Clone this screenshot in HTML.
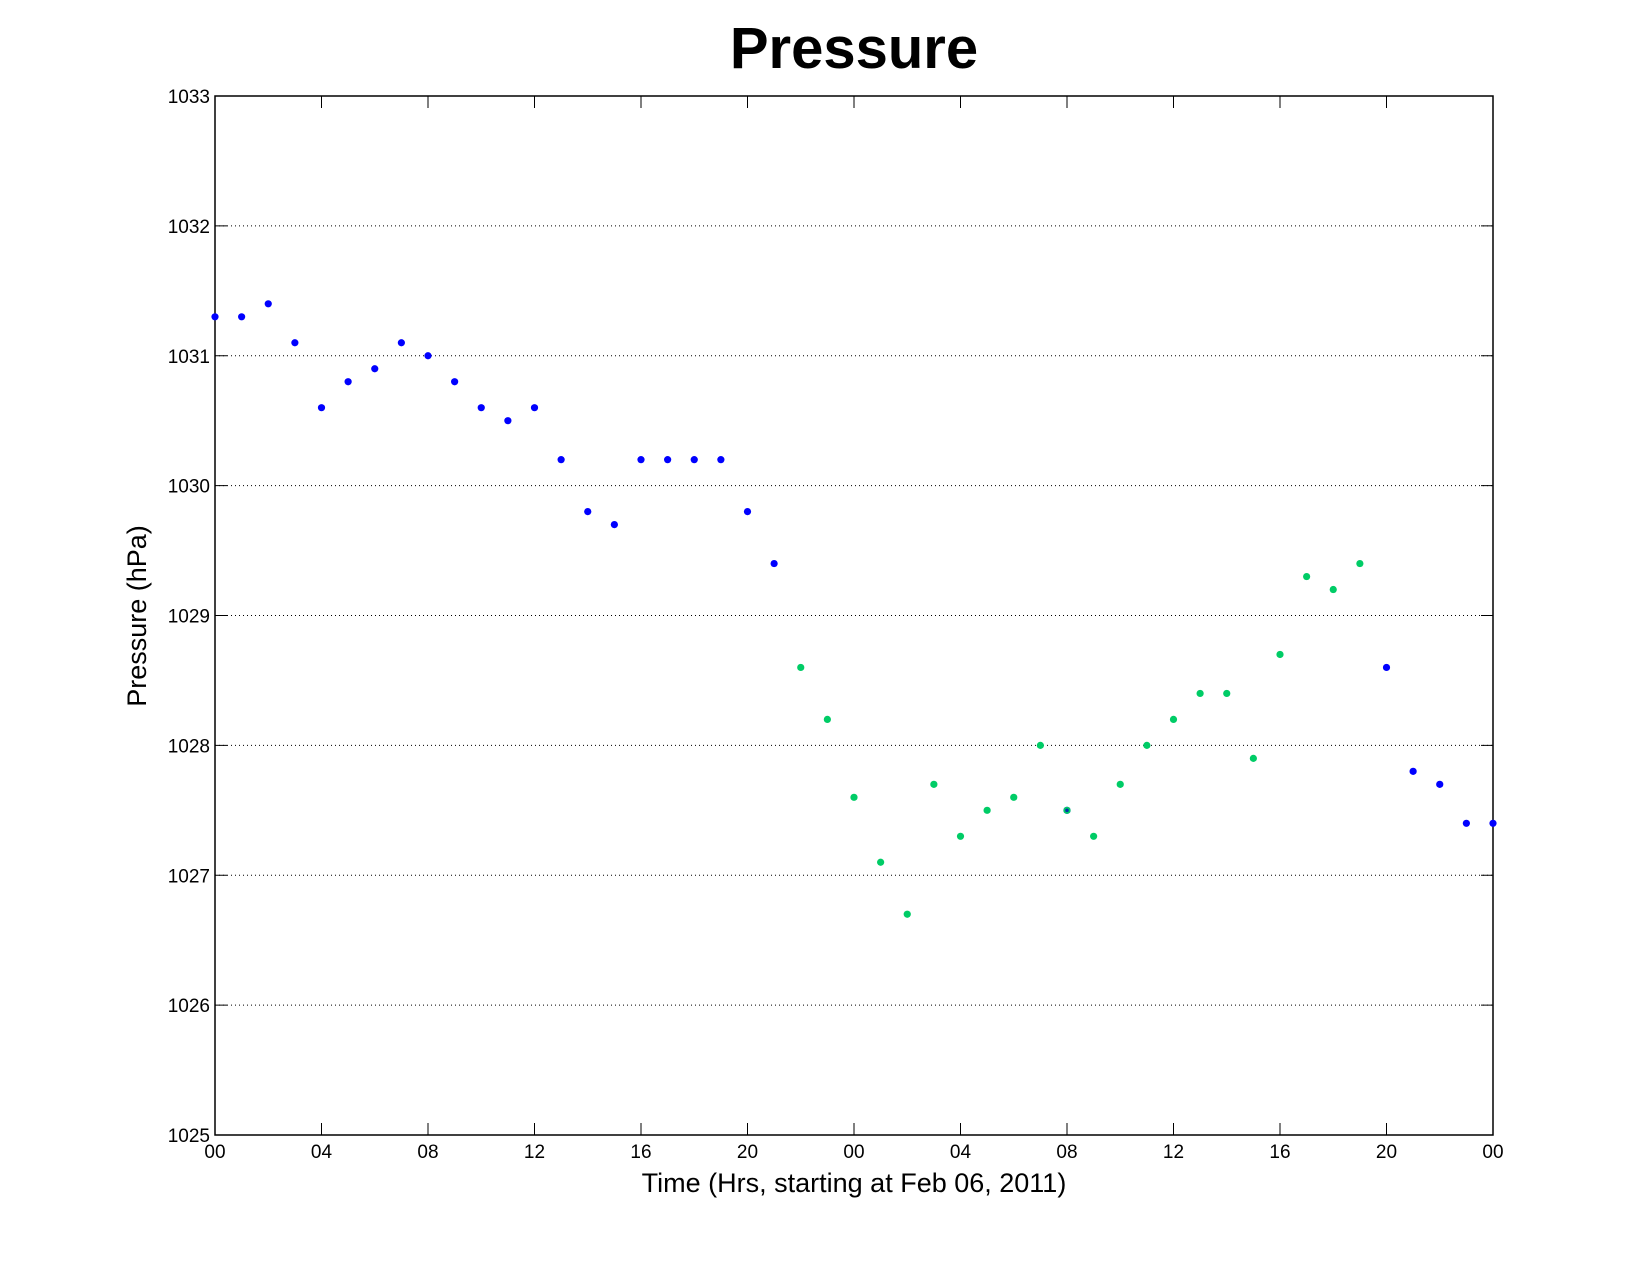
<!DOCTYPE html>
<html><head><meta charset="utf-8"><style>
body{margin:0;background:#fff}
svg{display:block;font-family:"Liberation Sans",sans-serif}
</style></head><body>
<svg id="chart" width="1650" height="1275" viewBox="0 0 1650 1275">
<text x="854" y="68" text-anchor="middle" font-size="58" font-weight="bold">Pressure</text>
<g id="grid"></g>
<g id="axes"></g>
<g id="pts"></g>
<text x="854" y="1192" text-anchor="middle" font-size="27">Time (Hrs, starting at Feb 06, 2011)</text>
<text transform="translate(146,616) rotate(-90)" text-anchor="middle" font-size="27">Pressure (hPa)</text>
</svg>
<script>
const xTickHours=[0,4,8,12,16,20,24,28,32,36,40,44,48];
const xTickLabels=["00","04","08","12","16","20","00","04","08","12","16","20","00"];
const yTicks=[1025,1026,1027,1028,1029,1030,1031,1032,1033];
const blueHours=[0,1,2,3,4,5,6,7,8,9,10,11,12,13,14,15,16,17,18,19,20,21,32,44,45,46,47,48];
const blueValues=[1031.3,1031.3,1031.4,1031.1,1030.6,1030.8,1030.9,1031.1,1031.0,1030.8,1030.6,1030.5,1030.6,1030.2,1029.8,1029.7,1030.2,1030.2,1030.2,1030.2,1029.8,1029.4,1027.5,1028.6,1027.8,1027.7,1027.4,1027.4];
const greenHours=[22,23,24,25,26,27,28,29,30,31,32,33,34,35,36,37,38,39,40,41,42,43];
const greenValues=[1028.6,1028.2,1027.6,1027.1,1026.7,1027.7,1027.3,1027.5,1027.6,1028.0,1027.5,1027.3,1027.7,1028.0,1028.2,1028.4,1028.4,1027.9,1028.7,1029.3,1029.2,1029.4];
const L=215,R=1493,T=96,B=1135;
const x=h=>L+(R-L)*h/48;
const y=v=>B-(B-T)*(v-1025)/8;
const NS="http://www.w3.org/2000/svg";
function mk(tag,attrs,parent){const e=document.createElementNS(NS,tag);for(const k in attrs)e.setAttribute(k,attrs[k]);parent.appendChild(e);return e;}
const grid=document.getElementById('grid'),axes=document.getElementById('axes'),pts=document.getElementById('pts');
yTicks.forEach(v=>{
 if(v>1025&&v<1033){const g=mk('line',{x1:L,x2:R,y1:y(v),y2:y(v),stroke:'#000','stroke-width':1,'stroke-dasharray':'1,3'},grid);
 
 }
 const t1=mk('line',{x1:L,x2:L+12,y1:y(v),y2:y(v),stroke:'#000'},axes);
 
 
 const t2=mk('line',{x1:R-12,x2:R,y1:y(v),y2:y(v),stroke:'#000'},axes);
 
 
 const lb=mk('text',{x:L-5,y:y(v)+7,'text-anchor':'end','font-size':19},axes);
 lb.textContent=v;
 
 
});
xTickHours.forEach((h,i)=>{
 const t1=mk('line',{x1:x(h),x2:x(h),y1:B,y2:B-12,stroke:'#000'},axes);
 
 
 const t2=mk('line',{x1:x(h),x2:x(h),y1:T,y2:T+12,stroke:'#000'},axes);
 
 
 const lb=mk('text',{x:x(h),y:B+23,'text-anchor':'middle','font-size':19},axes);
 lb.textContent=xTickLabels[i];
 
 
});
const frame=mk('rect',{x:L,y:T,width:R-L,height:B-T,fill:'none',stroke:'#000','stroke-width':1.5},axes);


blueHours.forEach((h,i)=>{
 const c=mk('circle',{cx:x(h),cy:y(blueValues[i]),r:3.6,fill:'#0000ff'},pts);
 
 
});
greenHours.forEach((h,i)=>{
 const c=mk('circle',{cx:x(h),cy:y(greenValues[i]),r:3.6,fill:'#00cc66'},pts);
 
 
 const bi=blueHours.indexOf(h);
 if(bi>=0){
  const d=mk('circle',{cx:x(h),cy:y(blueValues[bi]),r:1.8,fill:'#0033aa'},pts);
  
  
 }
});
</script>
</body></html>
